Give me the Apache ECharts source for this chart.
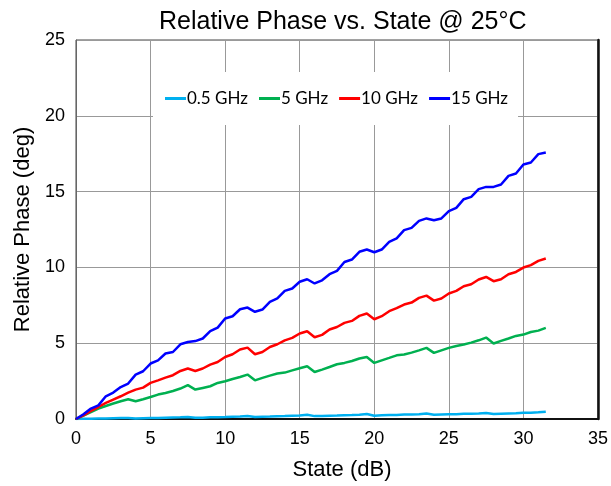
<!DOCTYPE html>
<html>
<head>
<meta charset="utf-8">
<script src="https://cdn.jsdelivr.net/npm/echarts@6/dist/echarts.min.js"></script>
<style>html,body{margin:0;padding:0;background:#fff}#c{width:611px;height:486px}</style>
</head>
<body>
<div id="c"></div>
<script>
const states = [0,0.5,1,1.5,2,2.5,3,3.5,4,4.5,5,5.5,6,6.5,7,7.5,8,8.5,9,9.5,10,10.5,11,11.5,12,12.5,13,13.5,14,14.5,15,15.5,16,16.5,17,17.5,18,18.5,19,19.5,20,20.5,21,21.5,22,22.5,23,23.5,24,24.5,25,25.5,26,26.5,27,27.5,28,28.5,29,29.5,30,30.5,31,31.5];
const seriesNames = ['0.5 GHz','5 GHz','10 GHz','15 GHz'];
const phase05 = [0,0.01,0.02,0.03,0.04,0.05,0.06,0.07,0.03,0.05,0.06,0.07,0.09,0.10,0.11,0.13,0.08,0.09,0.11,0.12,0.13,0.15,0.16,0.20,0.13,0.15,0.16,0.18,0.19,0.21,0.23,0.28,0.19,0.20,0.22,0.23,0.25,0.26,0.28,0.33,0.22,0.24,0.26,0.27,0.29,0.30,0.32,0.36,0.28,0.30,0.31,0.32,0.34,0.35,0.37,0.40,0.33,0.35,0.37,0.38,0.42,0.41,0.44,0.48];
const phase5 = [0,0.22,0.46,0.69,0.86,1.02,1.17,1.30,1.17,1.30,1.45,1.61,1.72,1.85,2.01,2.23,1.94,2.05,2.16,2.38,2.49,2.64,2.77,2.93,2.55,2.71,2.86,3.00,3.06,3.21,3.35,3.48,3.10,3.26,3.43,3.61,3.70,3.83,3.99,4.09,3.70,3.87,4.03,4.20,4.25,4.38,4.53,4.69,4.36,4.53,4.69,4.82,4.91,5.04,5.19,5.37,4.98,5.15,5.31,5.48,5.57,5.74,5.83,6.01];
const phase10 = [0,0.24,0.53,0.79,1.06,1.28,1.50,1.74,1.94,2.07,2.38,2.55,2.73,2.89,3.17,3.33,3.17,3.33,3.59,3.76,4.09,4.27,4.58,4.71,4.27,4.42,4.75,4.93,5.19,5.35,5.64,5.79,5.39,5.55,5.90,6.07,6.34,6.47,6.80,6.96,6.58,6.78,7.11,7.31,7.55,7.68,7.99,8.14,7.81,7.95,8.28,8.45,8.76,8.89,9.20,9.37,9.09,9.22,9.55,9.70,9.99,10.15,10.43,10.59];
const phase15 = [0,0.31,0.69,0.90,1.50,1.74,2.11,2.34,2.93,3.15,3.66,3.87,4.32,4.42,4.93,5.08,5.14,5.31,5.79,6.03,6.63,6.78,7.24,7.35,7.07,7.22,7.72,7.95,8.45,8.61,9.05,9.22,8.94,9.15,9.55,9.77,10.36,10.52,11.03,11.18,11.00,11.18,11.68,11.91,12.46,12.61,13.07,13.23,13.11,13.23,13.71,13.93,14.50,14.65,15.16,15.31,15.31,15.47,16.04,16.19,16.79,16.92,17.47,17.58];
const xTicks = [0,5,10,15,20,25,30,35];
const yTicks = [0,5,10,15,20,25];
const colors = ['#00B0F0','#00B050','#FF0000','#0000FF'];
const allData = [phase05, phase5, phase10, phase15];

const font = '"Liberation Sans", Arial, sans-serif';
const legendFont = 'Lato, "Open Sans", sans-serif';
const chart = echarts.init(document.getElementById('c'), null, {renderer:'canvas'});
chart.setOption({
  animation:false,
  backgroundColor:'#fff',
  title:{text:'Relative Phase vs. State @ 25°C', left:154, top:5,
    textStyle:{fontFamily:font, fontSize:25, fontWeight:'normal', color:'#000'}},
  grid:{left:76, right:13, top:40, bottom:67, show:true, borderColor:'#444', borderWidth:1},
  legend:{
    data:seriesNames, left:153, top:72, width:420,
    backgroundColor:'#fff', padding:[18,10,18,12], itemGap:11,
    itemWidth:21, itemHeight:3, icon:'rect',
    textStyle:{fontFamily:legendFont, fontSize:17, color:'#000', padding:[0,0,0,-4]}
  },
  xAxis:{
    type:'value', min:0, max:35, interval:5,
    name:'State (dB)', nameLocation:'middle', nameGap:40,
    nameTextStyle:{fontFamily:font, fontSize:22, color:'#000', padding:[0,0,0,10]},
    axisLine:{show:true, lineStyle:{color:'#111', width:2}},
    axisTick:{show:false},
    axisLabel:{fontFamily:font, fontSize:18, color:'#000', margin:11,
      formatter:v=>xTicks.includes(v)?String(v):''},
    splitLine:{show:true, lineStyle:{color:'#999', width:1}}
  },
  yAxis:[{
    type:'value', min:0, max:25, interval:5,
    name:'Relative Phase (deg)', nameLocation:'middle', nameGap:40,
    nameTextStyle:{fontFamily:font, fontSize:22, color:'#000'},
    axisLine:{show:true, lineStyle:{color:'#666', width:1}},
    axisTick:{show:false},
    axisLabel:{fontFamily:font, fontSize:18, color:'#000', margin:11,
      formatter:v=>yTicks.includes(v)?String(v):''},
    splitLine:{show:true, lineStyle:{color:'#999', width:1}}
  },{
    type:'value', min:0, max:25, interval:5, position:'right',
    axisLine:{show:true, onZero:false, lineStyle:{color:'#111', width:2.5}},
    axisTick:{show:false}, axisLabel:{show:false}, splitLine:{show:false}
  }],
  series: seriesNames.map((n,i)=>({
    name:n, type:'line', showSymbol:false, symbol:'none',
    data: states.map((s,j)=>[s, allData[i][j]]),
    lineStyle:{color:colors[i], width:2.5},
    itemStyle:{color:colors[i]},
    z: 2+i
  }))
});
</script>
</body>
</html>
